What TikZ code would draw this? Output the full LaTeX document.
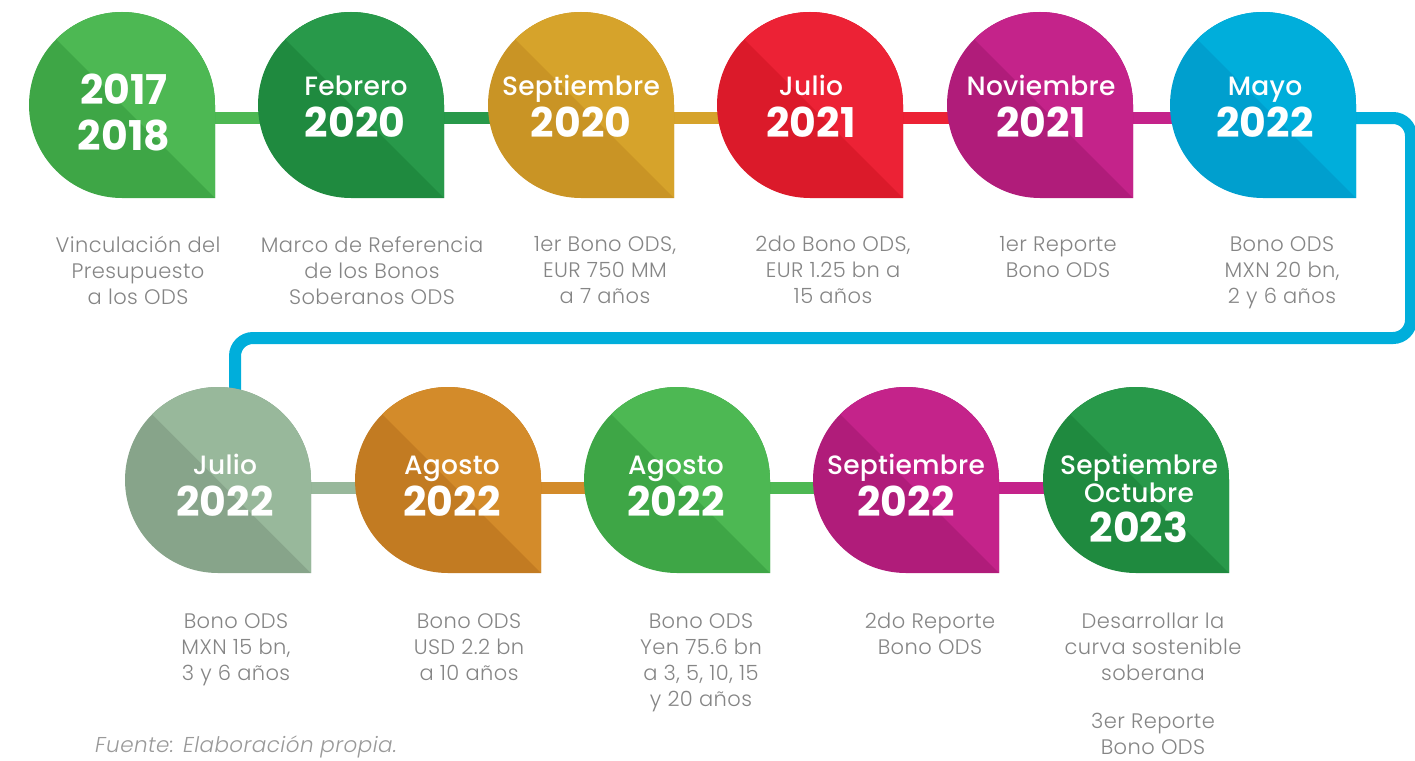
\documentclass[tikz,border=0pt]{standalone}
\usepackage{fontspec}
\setmainfont{Poppins}
\newfontfamily\lightf{Poppins Light}[ItalicFont={Poppins Light Italic},LetterSpace=2]
\newfontfamily\medf{Poppins Medium}[LetterSpace=1]
\newfontfamily\boldf{Poppins Bold}
\definecolor{gL}{HTML}{4DB853}\definecolor{gD}{HTML}{3EA646}
\definecolor{dgL}{HTML}{28994A}\definecolor{dgD}{HTML}{1F8A3F}
\definecolor{goL}{HTML}{D6A32B}\definecolor{goD}{HTML}{C99425}
\definecolor{rL}{HTML}{EC2235}\definecolor{rD}{HTML}{DB1A2A}
\definecolor{mL}{HTML}{C4238A}\definecolor{mD}{HTML}{B01C7A}
\definecolor{cL}{HTML}{00AEDB}\definecolor{cD}{HTML}{009FCE}
\definecolor{sL}{HTML}{98B89B}\definecolor{sD}{HTML}{87A48A}
\definecolor{oL}{HTML}{D38B2A}\definecolor{oD}{HTML}{C27B22}
\definecolor{descgray}{HTML}{858585}
\definecolor{footgray}{HTML}{9A9A9A}
\newcommand\dropshape[3]{%
  \begin{scope}
    \clip (#1) ++(93,0) -- ++(0,93) -- ++(-93,0) arc[start angle=90,end angle=360,radius=93] -- cycle;
    \fill[#3] (#1) ++(-100,-100) rectangle ++(200,200);
    \fill[#2] (#1) ++(-150,-150) -- ++(300,300) -- ++(0,-300) -- cycle;
  \end{scope}}
\tikzset{
  month/.style={text=white, font=\medf\fontsize{26.5}{29}\selectfont, anchor=base, inner sep=0pt},
  year/.style={text=white, font=\boldf\fontsize{41}{44}\selectfont, anchor=base, inner sep=0pt},
  desc/.style={text=descgray, font=\lightf\fontsize{21}{26}\selectfont, align=center, anchor=north, inner sep=0pt},
  bar/.style={line width=12pt},
}
\begin{document}
\begin{tikzpicture}[x=1pt,y=-1pt]
\useasboundingbox (0,0) rectangle (1415,760);
% centres
\coordinate (c1) at (122,105);
\coordinate (c2) at (351,105);
\coordinate (c3) at (581,105);
\coordinate (c4) at (810,105);
\coordinate (c5) at (1040,105);
\coordinate (c6) at (1263,105);
\coordinate (c7) at (218,480);
\coordinate (c8) at (448,480);
\coordinate (c9) at (677,480);
\coordinate (c10) at (906,480);
\coordinate (c11) at (1136,480);
% bar anchors
\coordinate (b1) at (122,118);
\coordinate (b2) at (351,118);
\coordinate (b3) at (581,118);
\coordinate (b4) at (810,118);
\coordinate (b5) at (1040,118);
\coordinate (b6) at (1263,118);
\coordinate (b7) at (218,488);
\coordinate (b8) at (448,488);
\coordinate (b9) at (677,488);
\coordinate (b10) at (906,488);
\coordinate (b11) at (1136,488);
\coordinate (r1) at (1411,118);
\coordinate (r2) at (1411,338);
\coordinate (l1) at (235,338);
\coordinate (l2) at (235,440);
% connectors
\draw[bar,gL] (b1) -- (b2);
\draw[bar,dgL] (b2) -- (b3);
\draw[bar,goL] (b3) -- (b4);
\draw[bar,rL] (b4) -- (b5);
\draw[bar,mL] (b5) -- (b6);
\draw[bar,cL,rounded corners=18pt] (b6) -- (r1) -- (r2) -- (l1) -- (l2);
\draw[bar,sL] (b7) -- (b8);
\draw[bar,oL] (b8) -- (b9);
\draw[bar,gL] (b9) -- (b10);
\draw[bar,mL] (b10) -- (b11);
% drops
\dropshape{c1}{gL}{gD}
\dropshape{c2}{dgL}{dgD}
\dropshape{c3}{goL}{goD}
\dropshape{c4}{rL}{rD}
\dropshape{c5}{mL}{mD}
\dropshape{c6}{cL}{cD}
\dropshape{c7}{sL}{sD}
\dropshape{c8}{oL}{oD}
\dropshape{c9}{gL}{gD}
\dropshape{c10}{mL}{mD}
\dropshape{c11}{dgL}{dgD}
% titles
\node[year] (y1a) at (124,104) {2017};
\node[year] (y1b) at (124,150) {2018};
\node[month] (m2) at (356,95) {Febrero};
\node[year] (y2) at (355,137) {2020};
\node[month] (m3) at (581,95) {Septiembre};
\node[year] (y3) at (581,137) {2020};
\node[month] (m4) at (811,95) {Julio};
\node[year] (y4) at (811,137) {2021};
\node[month] (m5) at (1041,95) {Noviembre};
\node[year] (y5) at (1041,137) {2021};
\node[month] (m6) at (1265,95) {Mayo};
\node[year] (y6) at (1265,137) {2022};
\node[month] (m7) at (225,474) {Julio};
\node[year] (y7) at (225,516) {2022};
\node[month] (m8) at (452,474) {Agosto};
\node[year] (y8) at (452,516) {2022};
\node[month] (m9) at (676,474) {Agosto};
\node[year] (y9) at (676,516) {2022};
\node[month] (m10) at (906,474) {Septiembre};
\node[year] (y10) at (906,516) {2022};
\node[month] (m11a) at (1139,474) {Septiembre};
\node[month] (m11b) at (1139,502) {Octubre};
\node[year] (y11) at (1139,542) {2023};
% descriptions
\node[desc] (d1) at (138,236) {Vinculación del\\Presupuesto\\a los ODS};
\node[desc] (d2) at (372,236) {Marco de Referencia\\de los Bonos\\Soberanos ODS};
\node[desc] (d3) at (605,236) {1er Bono ODS,\\EUR 750 MM\\a 7 años};
\node[desc] (d4) at (833,236) {2do Bono ODS,\\EUR 1.25 bn a\\15 años};
\node[desc] (d5) at (1058,236) {1er Reporte\\Bono ODS};
\node[desc] (d6) at (1282,236) {Bono ODS\\MXN 20 bn,\\2 y 6 años};
\node[desc] (d7) at (236,613) {Bono ODS\\MXN 15 bn,\\3 y 6 años};
\node[desc] (d8) at (469,613) {Bono ODS\\USD 2.2 bn\\a 10 años};
\node[desc] (d9) at (701,613) {Bono ODS\\Yen 75.6 bn\\a 3, 5, 10, 15\\y 20 años};
\node[desc] (d10) at (930,613) {2do Reporte\\Bono ODS};
\node[desc] (d11) at (1153,613) {Desarrollar la\\curva sostenible\\soberana\\[22pt]3er Reporte\\Bono ODS};
\node[anchor=base west, inner sep=0pt, text=footgray, font=\lightf\itshape\fontsize{21.5}{24}\selectfont] (src) at (95,752) {Fuente: Elaboración propia.};
\end{tikzpicture}
\end{document}
